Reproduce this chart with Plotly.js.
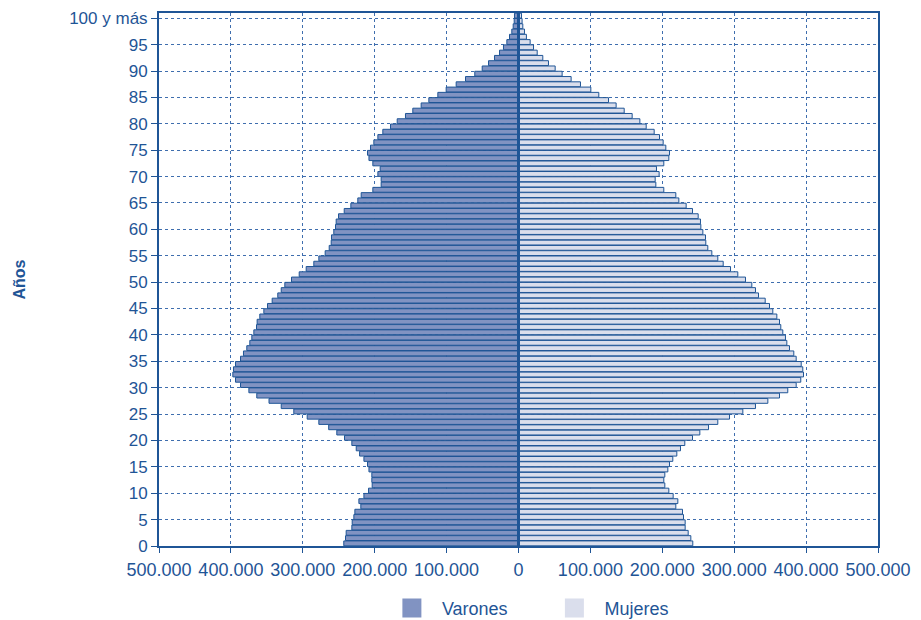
<!DOCTYPE html>
<html>
<head>
<meta charset="utf-8">
<script src="https://cdn.plot.ly/plotly-3.0.1.min.js"></script>
<style>
html,body{margin:0;padding:0;background:#fff;}
#chart{width:921px;height:620px;}
</style>
</head>
<body>
<div id="chart"></div>
<script>
// Ages 0..100 ("100 y más" = 100 and over)
var ages = [];
for (var i = 0; i <= 100; i++) ages.push(i);

// Population (persons)
var varones = [
 243000,240600,239700,231800,231300,229000,227600,219300,222000,215000,
 208600,203500,204000,204000,208000,210000,215000,221000,225700,231800,
 242000,252700,264000,277700,293900,312500,330000,347000,364000,375000,
 386600,393600,397300,396400,393600,386600,382500,377900,373700,370900,
 368100,364400,363500,359800,354200,349100,342600,334800,330000,325000,
 315700,305000,295300,284700,277700,268900,263300,260500,260100,256900,
 254500,253600,250300,242400,233200,223500,218800,202600,191000,191000,
 195600,192400,202600,208000,210000,205800,201200,195600,188700,178000,
 168700,157200,147000,135400,124700,112200,100600,86700,73700,60800,
 50500,41700,33400,26400,20900,16200,12500,9300,7400,6000,
 5600
];
var mujeres = [
 242400,239700,236000,231800,231800,229500,228100,218800,221600,215100,
 209100,203500,202100,203500,207700,210000,214600,220200,225300,231300,
 242000,252200,264300,277200,293500,312000,329600,346800,363000,374500,
 386200,392600,396400,395400,393200,386200,382900,376900,373200,371300,
 367600,364800,363000,359300,353700,349100,343100,333800,329600,324500,
 315700,305000,294900,284700,277200,268900,263300,260500,260100,256400,
 253600,253100,249900,242000,233200,223000,218800,202100,191000,190100,
 195600,191900,202100,209100,210000,204900,201200,196100,188700,177600,
 168800,158100,147000,135800,125200,111700,100600,86200,73200,60700,
 51000,41700,33800,26000,20900,16200,11000,8300,6000,5000,
 4200
];

var xTickVals = [-500000,-400000,-300000,-200000,-100000,0,100000,200000,300000,400000,500000];
var xTickText = ['500.000','400.000','300.000','200.000','100.000','0','100.000','200.000','300.000','400.000','500.000'];
var yTickVals = [0,5,10,15,20,25,30,35,40,45,50,55,60,65,70,75,80,85,90,95,100];
var yTickText = ['0','5','10','15','20','25','30','35','40','45','50','55','60','65','70','75','80','85','90','95','100 y más'];

var darkBlue = '#1f5596';
var gridBlue = '#3f6eae';
var maleFill = '#8193c2';
var femaleFill = '#dadeec';
var regular = '"Liberation Sans", Arial, sans-serif';

function fmt(v){ return String(v).replace(/\B(?=(\d{3})+(?!\d))/g, '.'); }

var yPos = ages.map(function(a){ return a + 0.5; });
var ageLabel = ages.map(function(a){ return a === 100 ? '100 y más' : String(a); });

var traces = [
 {
  type: 'bar', orientation: 'h', name: 'Varones', showlegend: false,
  y: yPos, x: varones.map(function(v){ return -v; }),
  customdata: varones.map(fmt), text: ageLabel, textposition: 'none',
  hovertemplate: 'Varones, %{text} años: %{customdata}<extra></extra>',
  marker: {color: maleFill, line: {color: darkBlue, width: 1}}
 },
 {
  type: 'bar', orientation: 'h', name: 'Mujeres', showlegend: false,
  y: yPos, x: mujeres,
  customdata: mujeres.map(fmt), text: ageLabel, textposition: 'none',
  hovertemplate: 'Mujeres, %{text} años: %{customdata}<extra></extra>',
  marker: {color: femaleFill, line: {color: darkBlue, width: 1}}
 },
 {
  type: 'scatter', mode: 'markers', name: 'Varones', x: [null], y: [null],
  legend: 'legend', hoverinfo: 'skip',
  marker: {symbol: 'square', size: 16, color: maleFill, line: {color: maleFill, width: 3}}
 },
 {
  type: 'scatter', mode: 'markers', name: 'Mujeres', x: [null], y: [null],
  legend: 'legend2', hoverinfo: 'skip',
  marker: {symbol: 'square', size: 16, color: femaleFill, line: {color: femaleFill, width: 3}}
 }
];

var legendCommon = {
  orientation: 'h', xanchor: 'left', yanchor: 'middle', y: -0.117,
  itemwidth: 50, font: {family: regular, size: 18, color: darkBlue},
  bgcolor: 'rgba(0,0,0,0)', borderwidth: 0
};

var layout = {
  width: 921, height: 620,
  margin: {l: 159, r: 43, t: 13, b: 74, pad: 0, autoexpand: false},
  paper_bgcolor: '#ffffff', plot_bgcolor: '#ffffff',
  barmode: 'relative', bargap: 0.08,
  showlegend: true,
  legend: Object.assign({}, legendCommon, {x: 0.31}),
  legend2: Object.assign({}, legendCommon, {x: 0.536}),
  xaxis: {
    range: [-500000, 500000], tickmode: 'array', tickvals: xTickVals, ticktext: xTickText,
    showgrid: true, gridcolor: gridBlue, gridwidth: 1, griddash: 'dot',
    zeroline: false, showline: true, linecolor: darkBlue, linewidth: 2, mirror: true,
    ticks: 'outside', ticklen: 5, tickwidth: 1, tickcolor: darkBlue, ticklabelstandoff: 1,
    tickangle: 0, automargin: false,
    tickfont: {family: regular, size: 18, color: darkBlue}, fixedrange: true
  },
  yaxis: {
    range: [0, 101], tickmode: 'array', tickvals: yTickVals, ticktext: yTickText,
    showgrid: true, gridcolor: gridBlue, gridwidth: 1, griddash: 'dot',
    zeroline: false, showline: true, linecolor: darkBlue, linewidth: 2, mirror: true,
    ticks: 'outside', ticklen: 6, tickwidth: 1, tickcolor: darkBlue, automargin: false,
    tickfont: {family: regular, size: 17, color: darkBlue},
    title: {text: '<b>Años</b>', font: {family: regular, size: 16, color: darkBlue}, standoff: 40},
    fixedrange: true
  },
  shapes: [
    {type: 'line', xref: 'x', yref: 'paper', x0: 0, x1: 0, y0: 0, y1: 1,
     line: {color: darkBlue, width: 3}, layer: 'above'}
  ]
};

Plotly.newPlot('chart', traces, layout, {displayModeBar: false, responsive: false});
</script>
</body>
</html>
